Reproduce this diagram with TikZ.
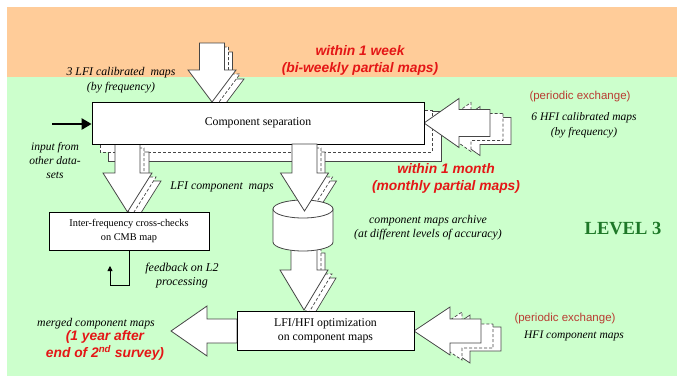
\documentclass[tikz,border=0pt]{standalone}
\usepackage{fontspec}
\setmainfont{Liberation Serif}
\newfontfamily\arialf{Liberation Sans}
\usetikzlibrary{arrows.meta}
\definecolor{bgorange}{RGB}{255,204,153}
\definecolor{bggreen}{RGB}{204,255,204}
\definecolor{hot}{RGB}{228,22,22}
\definecolor{exch}{RGB}{185,60,50}
\definecolor{lvl}{RGB}{30,120,40}
\definecolor{edge}{RGB}{70,70,70}
% block arrow paths
\newcommand\DnArrow[6]{(#1-#5,#2) -- (#1+#5,#2) -- (#1+#5,#3) -- (#1+#6,#3) -- (#1,#4) -- (#1-#6,#3) -- (#1-#5,#3) -- cycle}
\newcommand\LtArrow[6]{(#2,#1-#5) -- (#2,#1+#5) -- (#3,#1+#5) -- (#3,#1+#6) -- (#4,#1) -- (#3,#1-#6) -- (#3,#1-#5) -- cycle}
\tikzset{
  main/.style={fill=white,draw=edge,line width=0.8pt,line join=miter},
  cpdash/.style={fill=white,draw=edge,line width=0.7pt,dashed,dash pattern=on 3pt off 2pt},
  cpsolid/.style={fill=white,draw=edge,line width=0.7pt},
  box/.style={fill=white,draw=black,line width=0.8pt,align=center,font=\fontsize{11.8}{14}\selectfont},
  lab/.style={align=center,font=\fontsize{11.8}{14.5}\selectfont\itshape,inner sep=0pt},
  hotlab/.style={align=center,text=hot,font=\arialf\fontsize{13.8}{17}\selectfont\bfseries\itshape,inner sep=0pt},
  exlab/.style={text=exch,font=\arialf\fontsize{11.5}{13}\selectfont,inner sep=0pt},
}
\begin{document}
\begin{tikzpicture}[x=1pt,y=-1pt]
\useasboundingbox (0,0) rectangle (677,378);
% background
\fill[bgorange] (7,7) rectangle (677,77);
\fill[bggreen] (7,77) rectangle (677,376);

% copies of component separation box
\draw[cpsolid] (108,111) rectangle (441,161);
\draw[cpdash] (100,110) rectangle (432,152);

% top arrow (3 LFI calibrated maps)
\path[cpsolid] \DnArrow{220}{52}{79}{111}{12.5}{24};
\path[cpdash] \DnArrow{216}{47}{74}{106}{12.5}{24};
\path[main] \DnArrow{212}{43}{70}{102}{12.5}{24};

% left down arrow (LFI component maps)
\path[cpsolid] \DnArrow{136.5}{152}{181}{220}{12.5}{24.5};
\path[cpdash] \DnArrow{131.5}{148}{177}{216}{12.5}{24.5};
\path[main] \DnArrow{127.5}{144}{173}{212}{12.5}{24.5};

% right down arrow copies (to archive)
\path[cpsolid] \DnArrow{312.5}{152}{181}{219}{12.5}{24};
\path[cpdash] \DnArrow{308.5}{148}{177}{215}{12.5}{24};

% right arrow (6 HFI calibrated maps)
\path[cpsolid] \LtArrow{131}{511}{480}{445}{13.5}{24.5};
\path[cpdash] \LtArrow{127}{503}{471}{436}{13.5}{24.5};
\path[main] \LtArrow{123}{490}{459}{424}{13.5}{24.5};

% component separation box
\node[box,minimum width=332pt,minimum height=42pt] (cs) at (258,123) {Component separation};

% input arrow
\coordinate (inp) at (52,124);
\draw[line width=2.6pt,-{Triangle[length=10pt,width=11pt]}] (inp) -- (inp -| cs.west);

% lower arrow (archive -> optimization)
\path[cpsolid] \DnArrow{312}{253}{278}{318}{13}{24};
\path[cpdash] \DnArrow{308}{249}{274}{314}{13}{24};
\path[main] \DnArrow{304}{245}{270}{310}{13}{24};

% archive cylinder
\path[main] (273,209) -- (273,242) arc[start angle=180,end angle=0,x radius=30,y radius=9] -- (333,209) -- cycle;
\path[main] (303,209) ellipse[x radius=30,y radius=9];
\node[inner sep=0pt,minimum width=60pt,minimum height=51pt] (arch) at (303,225.5) {};

% right down arrow main
\path[main] \DnArrow{304.5}{144}{173}{211}{12.5}{24};

% inter-frequency box
\node[box,font=\fontsize{10.3}{14}\selectfont,minimum width=160pt,minimum height=38pt] (ifc) at (129,231) {Inter-frequency cross-checks\\on CMB map};

% feedback arrow
\coordinate (fb) at (110,266);
\draw[line width=0.8pt,-{Triangle[length=5pt,width=5pt]}] (ifc.south) -- ++(0,35) -| (fb);

% HFI component maps arrow
\path[cpsolid] \LtArrow{339}{501}{470}{434}{12}{24};
\path[cpdash] \LtArrow{336}{493}{462}{426}{12}{24};
\path[main] \LtArrow{331}{481}{450}{414}{12}{24};

% merged arrow
\path[main] \LtArrow{331}{237}{207}{171}{12}{25};

% optimization box
\node[box,minimum width=177pt,minimum height=39pt] (opt) at (325.5,330.5) {LFI/HFI optimization\\on component maps};

% texts
\node[lab,font=\fontsize{11.8}{15}\selectfont\itshape] (t1) at (121,80.5) {3 LFI calibrated\ \ maps\\(by frequency)};
\node[lab,font=\fontsize{11.5}{14}\selectfont\itshape] (t2) at (55,161) {input from\\other data-\\sets};
\node[hotlab] (w1) at (360,60) {within 1 week\\(bi-weekly partial maps)};
\node[exlab] (pe1) at (580,97) {(periodic exchange)};
\node[lab,font=\fontsize{11.5}{15}\selectfont\itshape] (t3) at (584,125.5) {6 HFI calibrated maps\\(by frequency)};
\node[hotlab] (w2) at (446,178.5) {within 1 month\\(monthly partial maps)};
\node[lab] (t4) at (222,187) {LFI component\ \ maps};
\node[lab,font=\fontsize{11.8}{14}\selectfont\itshape] (t5) at (428,228) {component maps archive\\(at different levels of accuracy)};
\node[text=lvl,font=\fontsize{18.5}{21}\selectfont\bfseries,inner sep=0pt] (lv) at (623,229) {LEVEL 3};
\node[lab,font=\fontsize{12}{14}\selectfont\itshape] (t6) at (182,276) {feedback on L2\\processing};
\node[lab] (t7) at (96,324) {merged component maps};
\node[hotlab] (w3) at (105,345.5) {(1 year after\\end of 2\textsuperscript{nd} survey)};
\node[exlab] (pe2) at (565,319) {(periodic exchange)};
\node[lab,font=\fontsize{11.5}{14}\selectfont\itshape] (t8) at (574,336) {HFI component maps};
\end{tikzpicture}
\end{document}
